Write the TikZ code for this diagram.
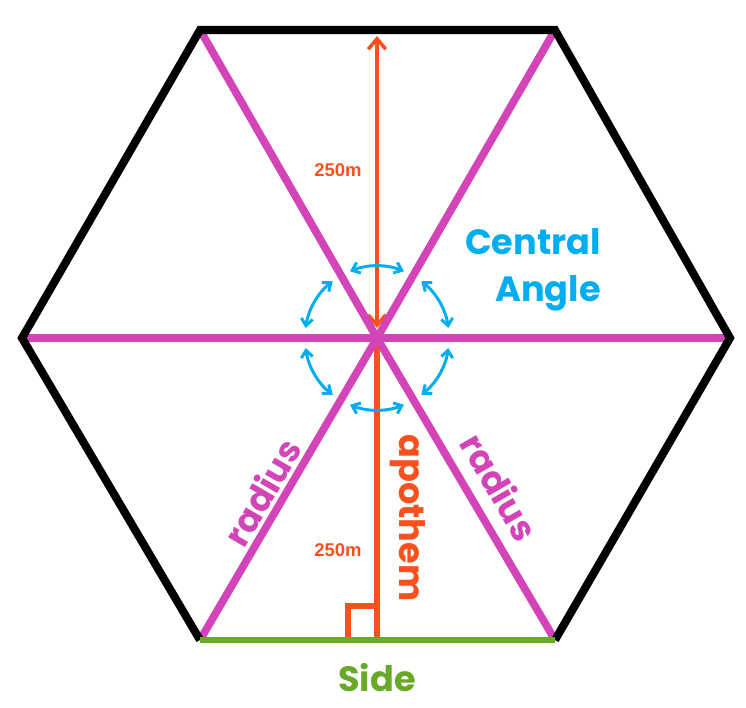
\documentclass[tikz,border=0pt]{standalone}
\usepackage{fontspec}
\setmainfont{Poppins}
\newfontfamily\numfont{Liberation Sans}
\usetikzlibrary{arrows.meta,calc}
\definecolor{hexpink}{RGB}{211,68,184}
\definecolor{hexorange}{RGB}{250,80,30}
\definecolor{hexcyan}{RGB}{0,174,239}
\definecolor{hexgreen}{RGB}{104,170,40}
\tikzset{
  radiusline/.style={hexpink,line width=4.4pt},
  lbl/.style={font=\bfseries\fontsize{20}{27}\selectfont,inner sep=0pt},
  numlbl/.style={text=hexorange,font=\numfont\bfseries\fontsize{10.5}{12}\selectfont}
}
\begin{document}
\begin{tikzpicture}[x=0.02cm,y=-0.02cm,>={Straight Barb[length=4pt,width=6.5pt]}]
\useasboundingbox (0,0) rectangle (746,707);
\coordinate (O) at (377,338);
\coordinate (A) at (200,30);
\coordinate (B) at (555,30);
\coordinate (C) at (730,338);
\coordinate (D) at (555,640);
\coordinate (E) at (200,640);
\coordinate (F) at (22,338);
\coordinate (M) at (377,640);
\coordinate (T) at (377,36);
\coordinate (Ot) at (377,328);
\draw[hexorange,line width=3.8pt] (O) -- (M);
\draw[{Straight Barb[length=6pt,width=10pt]}-{Straight Barb[length=6pt,width=10pt]},hexorange,line width=2pt] (Ot) -- (T);
\draw[hexorange,line width=3pt] (348,641) -- (348,606) -- (377,606);
\foreach \v in {A,B,C,D,E,F}
  \draw[radiusline] (O) -- (\v);
\foreach \a in {30,90,...,330}
  \draw[<->,hexcyan,line width=1.7pt] ($(O)+(\a-22:72)$) arc[start angle=\a-22,end angle=\a+22,radius=72];
\draw[line width=4.6pt,line join=miter] (E) -- (F) -- (A) -- (B) -- (C) -- (D);
\draw[hexgreen,line width=3.6pt] (E) -- (D);
\node[lbl,text=hexcyan,align=right,anchor=east] (ang) at (601,270) {Central\\Angle};
\node[lbl,text=hexpink,rotate=60] (radl) at (262,492) {radius};
\node[lbl,text=hexpink,rotate=-60] (radr) at (500,487) {radius};
\node[lbl,text=hexorange,rotate=-90] (apo) at (408,518) {apothem};
\node[lbl,text=hexgreen] (side) at (377,678) {Side};
\node[numlbl] (h1) at (338,170) {250m};
\node[numlbl] (h2) at (338,550) {250m};
\end{tikzpicture}
\end{document}
